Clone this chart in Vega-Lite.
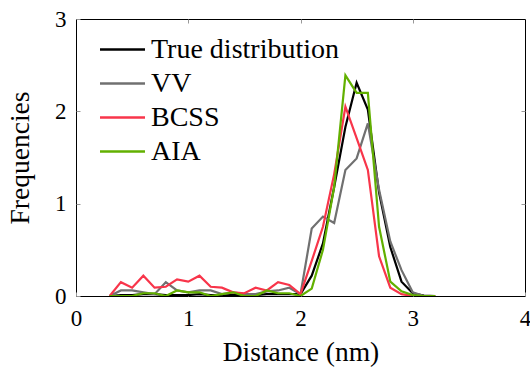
{
  "$schema": "https://vega.github.io/schema/vega-lite/v6.json",
  "width": 449,
  "height": 277,
  "autosize": "none",
  "padding": {"left": 76, "top": 19, "right": 5, "bottom": 71},
  "background": "white",
  "data": {"values": [
    {"d": 0.3, "True distribution": 0, "VV": 0, "BCSS": 0, "AIA": 0},
    {"d": 0.4, "True distribution": 0.01, "VV": 0.06, "BCSS": 0.15, "AIA": 0},
    {"d": 0.5, "True distribution": 0.01, "VV": 0.06, "BCSS": 0.09, "AIA": 0},
    {"d": 0.6, "True distribution": 0.02, "VV": 0.04, "BCSS": 0.22, "AIA": 0.03},
    {"d": 0.7, "True distribution": 0.02, "VV": 0.02, "BCSS": 0.09, "AIA": 0.03},
    {"d": 0.8, "True distribution": 0.01, "VV": 0.15, "BCSS": 0.1, "AIA": 0},
    {"d": 0.9, "True distribution": 0.01, "VV": 0.06, "BCSS": 0.18, "AIA": 0.06},
    {"d": 1.0, "True distribution": 0.01, "VV": 0.04, "BCSS": 0.155, "AIA": 0.04},
    {"d": 1.1, "True distribution": 0.02, "VV": 0.06, "BCSS": 0.22, "AIA": 0.04},
    {"d": 1.2, "True distribution": 0.01, "VV": 0.06, "BCSS": 0.1, "AIA": 0},
    {"d": 1.3, "True distribution": 0.01, "VV": 0.02, "BCSS": 0.09, "AIA": 0.02},
    {"d": 1.4, "True distribution": 0.01, "VV": 0.04, "BCSS": 0.04, "AIA": 0.04},
    {"d": 1.5, "True distribution": 0.01, "VV": 0.02, "BCSS": 0.03, "AIA": 0},
    {"d": 1.6, "True distribution": 0.01, "VV": 0.02, "BCSS": 0.09, "AIA": 0},
    {"d": 1.7, "True distribution": 0.02, "VV": 0.05, "BCSS": 0.06, "AIA": 0.06},
    {"d": 1.8, "True distribution": 0.02, "VV": 0.06, "BCSS": 0.15, "AIA": 0.03},
    {"d": 1.9, "True distribution": 0.02, "VV": 0.09, "BCSS": 0.12, "AIA": 0.03},
    {"d": 2.0, "True distribution": 0.02, "VV": 0.02, "BCSS": 0.02, "AIA": 0},
    {"d": 2.1, "True distribution": 0.22, "VV": 0.73, "BCSS": 0.38, "AIA": 0.08},
    {"d": 2.2, "True distribution": 0.57, "VV": 0.86, "BCSS": 0.75, "AIA": 0.5},
    {"d": 2.3, "True distribution": 1.18, "VV": 0.79, "BCSS": 1.32, "AIA": 1.18},
    {"d": 2.4, "True distribution": 1.83, "VV": 1.365, "BCSS": 2.05, "AIA": 2.39},
    {"d": 2.5, "True distribution": 2.31, "VV": 1.49, "BCSS": 1.71, "AIA": 2.2},
    {"d": 2.6, "True distribution": 2.02, "VV": 1.87, "BCSS": 1.365, "AIA": 2.2},
    {"d": 2.7, "True distribution": 1.12, "VV": 1.15, "BCSS": 0.43, "AIA": 0.75},
    {"d": 2.8, "True distribution": 0.53, "VV": 0.59, "BCSS": 0.09, "AIA": 0.155},
    {"d": 2.9, "True distribution": 0.155, "VV": 0.28, "BCSS": 0.02, "AIA": 0.05},
    {"d": 3.0, "True distribution": 0.03, "VV": 0.04, "BCSS": 0, "AIA": 0.01},
    {"d": 3.1, "True distribution": 0.005, "VV": 0, "BCSS": 0, "AIA": 0},
    {"d": 3.2, "True distribution": 0, "VV": 0, "BCSS": 0, "AIA": 0}
  ]},
  "transform": [{"fold": ["True distribution", "VV", "BCSS", "AIA"], "as": ["series", "freq"]}],
  "layer": [
    {
      "mark": {"type": "line", "strokeWidth": 2.2, "clip": true},
      "encoding": {
        "x": {"field": "d", "type": "quantitative", "scale": {"domain": [0, 4], "nice": false},
          "axis": {"orient": "bottom", "values": [0, 1, 2, 3, 4], "title": "Distance (nm)", "titlePadding": 8, "labelPadding": 15}},
        "y": {"field": "freq", "type": "quantitative", "scale": {"domain": [0, 3], "nice": false},
          "axis": {"orient": "left", "values": [0, 1, 2, 3], "title": "Frequencies", "titlePadding": 20}},
        "color": {"field": "series", "type": "nominal",
          "scale": {"domain": ["True distribution", "VV", "BCSS", "AIA"], "range": ["#000000", "#707070", "#f8354a", "#62b000"]},
          "legend": {"orient": "none", "legendX": 30, "legendY": 14, "title": null, "symbolType": "M-1.5,0H1.5",
            "symbolSize": 900, "symbolStrokeWidth": 2.5, "labelFont": "'Liberation Serif', 'Times New Roman', serif", "labelFontSize": 28,
            "labelColor": "black", "labelOffset": 12, "rowPadding": 3, "padding": 0, "labelLimit": 400}}
      }
    },
    {
      "mark": {"type": "point", "opacity": 0},
      "encoding": {
        "x": {"field": "d", "type": "quantitative", "axis": {"orient": "top", "values": [1, 2, 3], "labels": false, "title": null}},
        "y": {"field": "freq", "type": "quantitative", "axis": {"orient": "right", "values": [1, 2], "labels": false, "title": null}}
      }
    }
  ],
  "resolve": {"axis": {"x": "independent", "y": "independent"}},
  "config": {
    "view": {"stroke": "black", "strokeWidth": 1},
    "axis": {
      "grid": false, "domain": false, "tickColor": "#999999", "tickSize": -4, "tickWidth": 1,
      "labelFont": "'Liberation Serif', 'Times New Roman', serif", "labelFontSize": 23, "labelColor": "black", "labelPadding": 14,
      "labelFlush": false, "labelOverlap": false,
      "titleFont": "'Liberation Serif', 'Times New Roman', serif", "titleFontSize": 27.5, "titleFontWeight": "normal", "titleColor": "black"
    }
  }
}
